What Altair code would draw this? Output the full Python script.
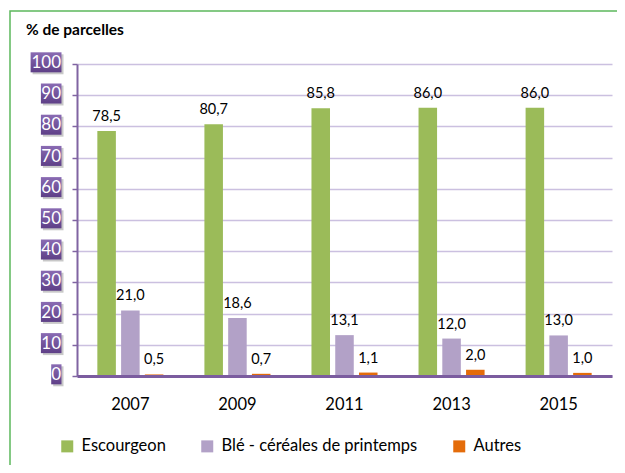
import altair as alt
import pandas as pd

years = ["2007", "2009", "2011", "2013", "2015"]
escourgeon = [78.5, 80.7, 85.8, 86.0, 86.0]
ble = [21.0, 18.6, 13.1, 12.0, 13.0]
autres = [0.5, 0.7, 1.1, 2.0, 1.0]
series = ["Escourgeon", "Blé - céréales de printemps", "Autres"]
colors = ["#9bbb59", "#b2a1c7", "#e46c0a"]
y_ticks = [0, 10, 20, 30, 40, 50, 60, 70, 80, 90, 100]
title_text = "% de parcelles"

rows = []
for i, yr in enumerate(years):
    for s, vals in zip(series, [escourgeon, ble, autres]):
        rows.append({"year": yr, "series": s, "value": vals[i]})
df = pd.DataFrame(rows)

PURPLE = "#8064a2"
FONT = "Lato"
ydom = alt.Scale(domain=[0, 100], nice=False, zero=True)
y_axis = alt.Axis(title=None, values=y_ticks, labels=False, tickSize=5, tickColor=PURPLE,
                  tickWidth=1.5, domainColor=PURPLE, domainWidth=2, grid=True,
                  gridColor="#cbc0e0", gridWidth=1.5, zindex=0)
x_axis = alt.Axis(title=None, labelFontSize=16.5, labelFont=FONT, labelColor="#000000",
                  labelPadding=20, ticks=False, domainColor="#7b5c9f", domainWidth=3,
                  labelAngle=0, grid=False, zindex=1)

x_enc = alt.X("year:N", sort=years,
              scale=alt.Scale(paddingInner=0.383, paddingOuter=0.19), axis=x_axis)
y_enc = alt.Y("value:Q", scale=ydom, axis=y_axis)
xoff = alt.XOffset("series:N", sort=series, scale=alt.Scale(paddingInner=0.22, paddingOuter=0))
color_enc = alt.Color(
    "series:N", sort=series,
    scale=alt.Scale(domain=series, range=colors),
    legend=alt.Legend(orient="none", legendX=-18, legendY=374, direction="horizontal",
                      title=None, symbolType="square", symbolSize=144, symbolStrokeWidth=0,
                      labelFontSize=16.5, labelFont=FONT, labelColor="#000000", labelLimit=0,
                      columnPadding=33, labelOffset=6, padding=0),
)

bars = alt.Chart(df).mark_bar().encode(x=x_enc, y=y_enc, xOffset=xoff, color=color_enc)

labels = alt.Chart(df).transform_calculate(
    lab="replace(format(datum.value, '.1f'), '.', ',')"
).mark_text(dy=-10, baseline="alphabetic", fontSize=14.5, font=FONT, color="#000000").encode(
    x=alt.X("year:N", sort=years, axis=x_axis),
    y=alt.Y("value:Q", scale=ydom, axis=y_axis),
    xOffset=xoff,
    text="lab:N",
)

ticks_df = pd.DataFrame({"v": y_ticks})
tick_base = alt.Chart(ticks_df).transform_calculate(
    xl="-15.5 - 10.3*length(toString(datum.v))",
    xs="-13.5 - 10.3*length(toString(datum.v))",
    top="datum.v + 3.75",
    bot="datum.v - 2.67",
    stop="datum.v + 3.1",
    sbot="datum.v - 3.3",
)
grad = alt.LinearGradient(
    gradient="linear",
    stops=[alt.GradientStop(color="#8a6bb3", offset=0), alt.GradientStop(color="#5e3f87", offset=1)],
    x1=0, x2=0, y1=0, y2=1,
)
shadows = tick_base.mark_rect(fill="#9a9a9a", opacity=0.55).encode(
    x=alt.X("xs:Q", scale=None),
    x2=alt.value(-13.5),
    y=alt.Y("stop:Q", scale=ydom, axis=y_axis),
    y2="sbot:Q",
)
boxes = tick_base.mark_rect(fill=grad).encode(
    x=alt.X("xl:Q", scale=None),
    x2=alt.value(-15.5),
    y=alt.Y("top:Q", scale=ydom, axis=y_axis),
    y2="bot:Q",
)
box_text = tick_base.mark_text(align="right", baseline="middle", dy=-1, fontSize=17,
                               font=FONT, color="#ffffff").encode(
    x=alt.value(-16),
    y=alt.Y("v:Q", scale=ydom, axis=y_axis),
    text="v:Q",
)

one = pd.DataFrame({"t": [title_text]})
title = alt.Chart(one).mark_text(align="left", baseline="alphabetic", fontSize=15.5,
                                 fontWeight="bold", font=FONT, color="#000000").encode(
    x=alt.value(-51), y=alt.value(-29), text="t:N"
)
border = alt.Chart(one).mark_rect(fill=None, stroke="#5cb85c", strokeWidth=1.5).encode(
    x=alt.value(-67), x2=alt.value(700), y=alt.value(-53), y2=alt.value(700)
)

chart = alt.layer(border, bars, labels, shadows, boxes, box_text, title).properties(
    width=535, height=312,
    autosize=alt.AutoSizeParams(type="none"),
    padding={"left": 69, "top": 56, "right": 5, "bottom": 89},
    background="#ffffff",
).configure_view(stroke=None)

chart.save("out.html", embed_options={"renderer": "svg", "actions": False})
